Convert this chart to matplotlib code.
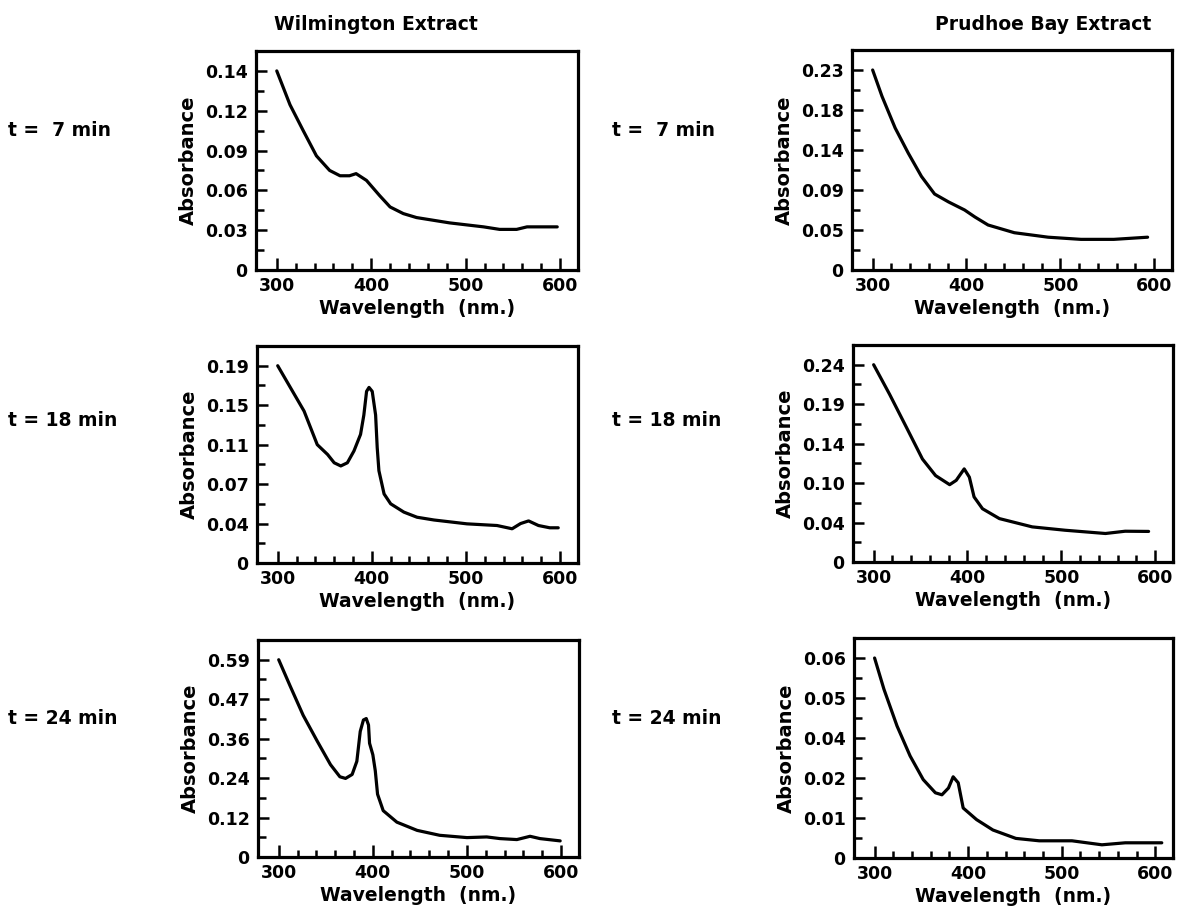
import numpy as np
import matplotlib
matplotlib.use("Agg")
import matplotlib.pyplot as plt

plt.rcParams['font.family'] = ['DejaVu Sans']
plt.rcParams['font.weight'] = 'bold'

# --- data (wavelength nm, absorbance) ---
wil_7_x = [300, 314, 328, 342, 356, 367, 377, 384, 395, 409, 420, 434, 448, 483, 519, 536, 554, 565, 597]
wil_7_y = [0.140, 0.123, 0.105, 0.086, 0.075, 0.071, 0.071, 0.0726, 0.0675, 0.056, 0.0475, 0.0425,
           0.0395, 0.0355, 0.0325, 0.0306, 0.0306, 0.0325, 0.0325]

pru_7_x = [300, 310, 324, 338, 352, 366, 381, 398, 409, 423, 451, 487, 522, 557, 593]
pru_7_y = [0.230, 0.197, 0.162, 0.136, 0.107, 0.086, 0.078, 0.070, 0.063, 0.055, 0.0466, 0.041,
           0.0383, 0.0383, 0.041]

wil_18_x = [300, 314, 328, 342, 353, 360, 367, 374, 381, 388, 391.5, 394.4, 397, 400.4, 404,
            405.7, 407.5, 413, 420, 434, 448, 466, 501, 533, 549, 558, 566.5, 577, 589, 598]
wil_18_y = [0.190, 0.167, 0.144, 0.110, 0.100, 0.0916, 0.0884, 0.0916, 0.1036, 0.1204, 0.140,
            0.164, 0.168, 0.164, 0.140, 0.107, 0.0836, 0.0625, 0.055, 0.0487, 0.0448, 0.0427,
            0.0397, 0.038, 0.0347, 0.040, 0.042, 0.038, 0.0357, 0.0357]

pru_18_x = [300, 317, 335, 352, 366, 381, 388, 396.5, 402, 407, 416, 434, 469, 504, 547, 568, 593]
pru_18_y = [0.240, 0.2025, 0.1605, 0.1244, 0.1076, 0.0976, 0.1028, 0.1144, 0.106, 0.079, 0.061,
            0.046, 0.0356, 0.0322, 0.0289, 0.0312, 0.031]

wil_24_x = [300, 312, 326, 341, 355, 365, 371, 378, 383, 386.6, 390, 393, 395.4, 396.5, 400,
            402.6, 405, 411, 425.5, 447, 471, 500, 521, 535, 553, 567, 577.5, 599]
wil_24_y = [0.590, 0.511, 0.425, 0.352, 0.281, 0.244, 0.239, 0.251, 0.291, 0.380, 0.412, 0.416,
            0.398, 0.346, 0.311, 0.262, 0.191, 0.141, 0.106, 0.081, 0.066, 0.059, 0.061, 0.056,
            0.053, 0.063, 0.056, 0.049]

pru_24_x = [300, 310, 324, 338, 352, 365, 372, 379, 384, 389.4, 394.7, 409, 426.5, 451, 476,
            511, 543, 568, 607]
pru_24_y = [0.060, 0.0522, 0.043, 0.031, 0.0196, 0.0163, 0.0158, 0.0175, 0.0206, 0.0188, 0.0125,
            0.0096, 0.007, 0.0049, 0.0043, 0.0043, 0.0033, 0.0038, 0.0038]

# tick levels printed on each y axis (evenly spaced on the page)
wil_7_levels = [0, 0.03, 0.06, 0.09, 0.12, 0.14]
pru_7_levels = [0, 0.05, 0.09, 0.14, 0.18, 0.23]
wil_18_levels = [0, 0.04, 0.07, 0.11, 0.15, 0.19]
pru_18_levels = [0, 0.04, 0.10, 0.14, 0.19, 0.24]
wil_24_levels = [0, 0.12, 0.24, 0.36, 0.47, 0.59]
pru_24_levels = [0, 0.01, 0.02, 0.04, 0.05, 0.06]

row_labels = ["t =  7 min", "t = 18 min", "t = 24 min"]
col_titles = ["Wilmington Extract", "Prudhoe Bay Extract"]

W, H = 1179, 915


def level_scale(levels):
    lv = np.asarray(levels, float)
    pos = np.arange(len(lv), dtype=float)

    def fwd(v):
        v = np.asarray(v, float)
        out = np.interp(v, lv, pos)
        out = np.where(v > lv[-1], pos[-1] + (v - lv[-1]) / (lv[-1] - lv[-2]), out)
        out = np.where(v < lv[0], (v - lv[0]) / (lv[1] - lv[0]), out)
        return out

    def inv(p):
        p = np.asarray(p, float)
        out = np.interp(p, pos, lv)
        out = np.where(p > pos[-1], lv[-1] + (p - pos[-1]) * (lv[-1] - lv[-2]), out)
        out = np.where(p < 0, lv[0] + p * (lv[1] - lv[0]), out)
        return out

    return fwd, inv


def fmt(v):
    return "0" if v == 0 else "%.2f" % v


def panel(rect, x, y, levels):
    l, b, w, h = rect
    ax = fig.add_axes([l / W, 1 - b / H, w / W, h / H])
    fwd, inv = level_scale(levels)
    ax.set_yscale('function', functions=(fwd, inv))
    ax.plot(x, y, color='black', lw=2.3, solid_joinstyle='round', solid_capstyle='round')
    ax.set_xlim(278, 619)
    ax.set_ylim(float(inv(0)), float(inv(5.47)))
    ax.set_yticks(levels, [fmt(v) for v in levels])
    ax.set_yticks(inv(np.arange(len(levels)) + 0.5), minor=True)
    ax.set_xticks([300, 400, 500, 600])
    ax.set_xticks(np.arange(300, 601, 20), minor=True)
    for s in ax.spines.values():
        s.set_linewidth(2.3)
    ax.tick_params(which='both', direction='in', width=1.8, labelsize=12.5, top=False, right=False)
    ax.tick_params(which='major', axis='y', length=8, pad=6)
    ax.tick_params(which='minor', axis='y', length=6)
    ax.tick_params(which='major', axis='x', length=9, pad=5)
    ax.tick_params(which='minor', axis='x', length=5)
    ax.set_xlabel("Wavelength  (nm.)", fontsize=13.5, fontweight='bold', labelpad=3)
    ax.set_ylabel("Absorbance", fontsize=14, fontweight='bold', labelpad=5)
    return ax


fig = plt.figure(figsize=(W / 100, H / 100), dpi=100)

panel((256, 270, 322, 219), wil_7_x, wil_7_y, wil_7_levels)
panel((852, 270, 320, 220), pru_7_x, pru_7_y, pru_7_levels)
panel((257, 563, 321, 217), wil_18_x, wil_18_y, wil_18_levels)
panel((853, 562, 320, 217), pru_18_x, pru_18_y, pru_18_levels)
panel((258, 857, 321, 217), wil_24_x, wil_24_y, wil_24_levels)
panel((854, 858, 319, 220), pru_24_x, pru_24_y, pru_24_levels)

fig.text(376 / W, 1 - 25 / H, col_titles[0], ha='center', va='center', fontsize=13.5, fontweight='bold')
fig.text(1043 / W, 1 - 25 / H, col_titles[1], ha='center', va='center', fontsize=13.5, fontweight='bold')

for lab, yy in zip(row_labels, [131, 420, 718]):
    fig.text(8 / W, 1 - yy / H, lab, ha='left', va='center', fontsize=13.5, fontweight='bold')
    fig.text(612 / W, 1 - yy / H, lab, ha='left', va='center', fontsize=13.5, fontweight='bold')

fig.savefig("out.png", dpi=100, facecolor='white')
